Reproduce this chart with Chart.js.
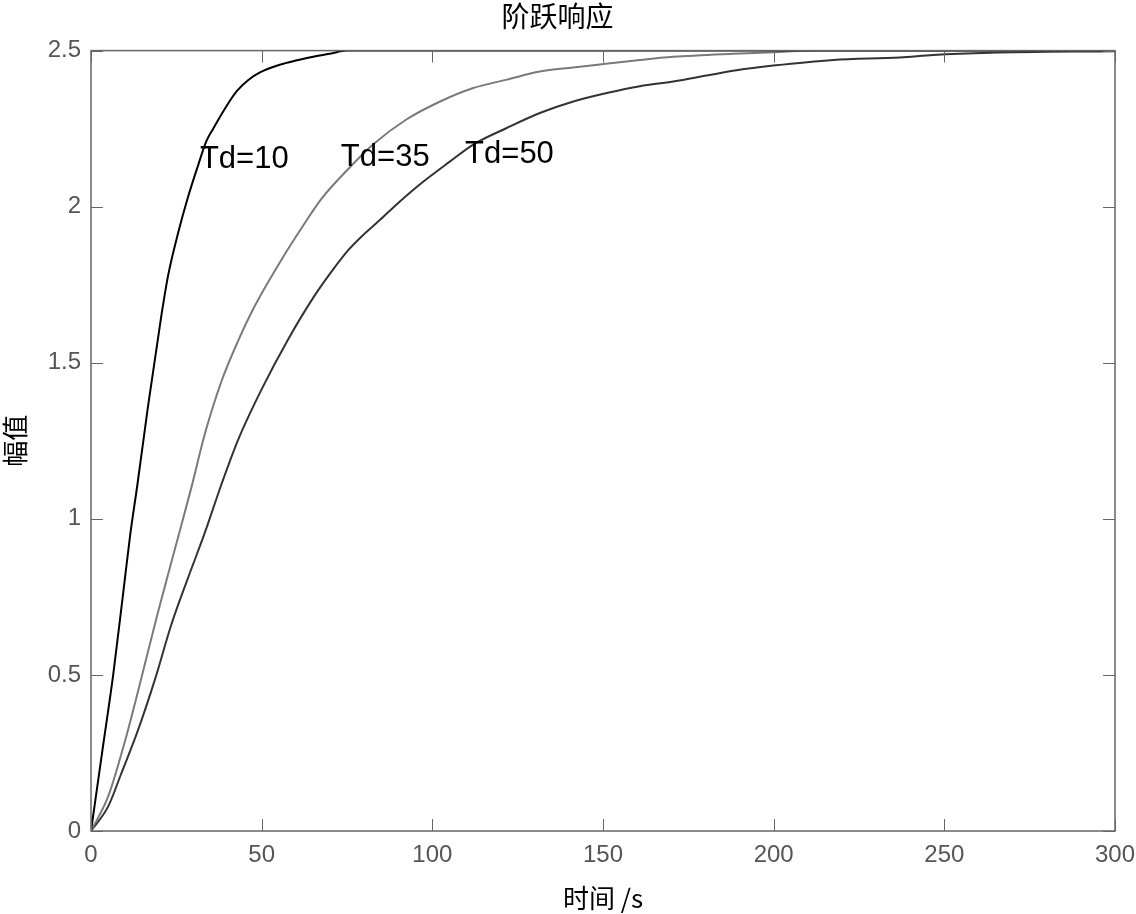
<!DOCTYPE html>
<html>
<head>
<meta charset="utf-8">
<script src="https://cdn.jsdelivr.net/npm/chart.js@4"></script>
<style>
    html, body { margin: 0; padding: 0; background: #fff; }
    #wrap { width: 1136px; height: 914px; }
</style>
</head>
<body>
<div id="wrap"><canvas id="stepChart"></canvas></div>
<script>
// data
const seriesNames = ['Td=10', 'Td=35', 'Td=50'];

const tTd10 = [0, 3.5, 6.5, 9.4, 11.5, 13.6, 16.7, 20.6, 22.6, 25.5, 28.4, 31.3, 33.8, 35.8, 39, 42.7, 46, 49.5, 55.4, 60, 65.1, 70, 75, 300];
const yTd10 = [0, 0.27, 0.5, 0.76, 0.95, 1.11, 1.36, 1.65, 1.78, 1.915, 2.03, 2.13, 2.21, 2.25, 2.31, 2.37, 2.405, 2.43, 2.455, 2.468, 2.48, 2.49, 2.5, 2.5];

const tTd35 = [0, 5, 10, 14.3, 19.6, 24.5, 29.4, 33.3, 38.2, 43.1, 47.9, 55.8, 61.6, 67.5, 75.3, 82.7, 92.5, 102.3, 112, 121.8, 131.5, 141.3, 150.1, 160.8, 170.6, 188.2, 200, 212, 300];
const yTd35 = [0, 0.11, 0.29, 0.47, 0.7, 0.9, 1.1, 1.27, 1.44, 1.57, 1.68, 1.83, 1.93, 2.025, 2.12, 2.2, 2.28, 2.337, 2.38, 2.407, 2.433, 2.446, 2.457, 2.47, 2.48, 2.49, 2.495, 2.5, 2.5];

const tTd50 = [0, 5, 8.9, 13.8, 18.7, 23.5, 28.4, 33.3, 38.2, 43.1, 49.9, 57.7, 65.5, 71, 75.3, 80, 84.7, 90, 96.4, 105.2, 112, 121.8, 131.5, 141.3, 151.1, 160.8, 170.6, 180.4, 189.1, 199.9, 217.5, 237, 246.8, 263.4, 300];
const yTd50 = [0, 0.078, 0.185, 0.324, 0.484, 0.66, 0.81, 0.954, 1.11, 1.253, 1.413, 1.574, 1.715, 1.8, 1.86, 1.912, 1.958, 2.012, 2.072, 2.145, 2.199, 2.252, 2.3, 2.337, 2.364, 2.386, 2.401, 2.42, 2.437, 2.452, 2.47, 2.478, 2.486, 2.493, 2.498];

const xTickLabels = ['0', '50', '100', '150', '200', '250', '300'];
const yTickLabels = ['0', '0.5', '1', '1.5', '2', '2.5'];

// where the curve names sit (data units, left edge / middle of text)
const labelAnchors = [[31.9, 2.15], [73.2, 2.157], [109.6, 2.167]];

const lineColors = ['#000000', '#7a7a7a', '#333333'];
const tickFont = { family: "'Liberation Sans', Arial, sans-serif", size: 24 };
const cjkFont = "'Noto Sans CJK SC', sans-serif";

function toPoints(ts, ys) {
    return ts.map(function (t, i) { return { x: t, y: ys[i] }; });
}

const frameTicks = {
    id: 'frameTicks',
    afterDatasetsDraw: function (chart) {
        const ctx = chart.ctx;
        const a = chart.chartArea;
        const xs = chart.scales.x;
        const ys = chart.scales.y;
        const len = 12;
        ctx.save();
        ctx.strokeStyle = '#666';
        ctx.lineWidth = 1.5;
        ctx.strokeRect(a.left, a.top, a.right - a.left, a.bottom - a.top);
        ctx.lineWidth = 1;
        ctx.beginPath();
        xs.ticks.forEach(function (t) {
            const px = Math.round(xs.getPixelForValue(t.value)) + 0.5;
            ctx.moveTo(px, a.bottom); ctx.lineTo(px, a.bottom - len);
            ctx.moveTo(px, a.top); ctx.lineTo(px, a.top + len);
        });
        ys.ticks.forEach(function (t) {
            const py = Math.round(ys.getPixelForValue(t.value)) + 0.5;
            ctx.moveTo(a.left, py); ctx.lineTo(a.left + len, py);
            ctx.moveTo(a.right, py); ctx.lineTo(a.right - len, py);
        });
        ctx.stroke();

        // curve names
        ctx.fillStyle = '#000';
        ctx.font = "31px 'Liberation Sans', Arial, sans-serif";
        ctx.textBaseline = 'middle';
        ctx.textAlign = 'left';
        labelAnchors.forEach(function (p, i) {
            ctx.fillText(seriesNames[i], xs.getPixelForValue(p[0]), ys.getPixelForValue(p[1]));
        });
        ctx.restore();
    }
};

const ctx = document.getElementById('stepChart').getContext('2d');
new Chart(ctx, {
    type: 'line',
    data: {
        datasets: [
            { label: seriesNames[0], data: toPoints(tTd10, yTd10), borderColor: lineColors[0] },
            { label: seriesNames[1], data: toPoints(tTd35, yTd35), borderColor: lineColors[1] },
            { label: seriesNames[2], data: toPoints(tTd50, yTd50), borderColor: lineColors[2] }
        ]
    },
    options: {
        responsive: true,
        maintainAspectRatio: false,
        animation: false,
        datasets: {
            line: {
                borderWidth: 2,
                pointRadius: 0,
                fill: false,
                cubicInterpolationMode: 'monotone'
            }
        },
        layout: { padding: { left: 0, right: 21, top: 0, bottom: 0 } },
        scales: {
            x: {
                type: 'linear',
                min: 0,
                max: 300,
                afterFit: function (s) {
                    s.height = 83;
                    s.paddingLeft = 0;
                    s.paddingRight = 0;
                },
                ticks: {
                    stepSize: 50,
                    color: '#555',
                    font: tickFont,
                    padding: 10,
                    maxRotation: 0,
                    callback: function (v, i) { return xTickLabels[i]; }
                },
                grid: { display: false, drawTicks: false },
                border: { display: false },
                title: {
                    display: true,
                    text: '时间 /s',
                    color: '#000',
                    font: { family: cjkFont, size: 26 },
                    padding: { top: 0, bottom: 0 }
                }
            },
            y: {
                min: 0,
                max: 2.5,
                afterFit: function (s) { s.width = 91; },
                ticks: {
                    stepSize: 0.5,
                    color: '#555',
                    font: tickFont,
                    padding: 10,
                    callback: function (v, i) { return yTickLabels[i]; }
                },
                grid: { display: false, drawTicks: false },
                border: { display: false },
                title: {
                    display: true,
                    text: '幅值',
                    color: '#000',
                    font: { family: cjkFont, size: 26 },
                    padding: { top: 0, bottom: 0 }
                }
            }
        },
        plugins: {
            legend: { display: false },
            tooltip: { enabled: false },
            title: {
                display: true,
                text: '阶跃响应',
                color: '#000',
                font: { family: cjkFont, size: 28, weight: 'normal' },
                padding: { top: 0, bottom: 17 }
            }
        }
    },
    plugins: [frameTicks]
});
</script>
</body>
</html>
